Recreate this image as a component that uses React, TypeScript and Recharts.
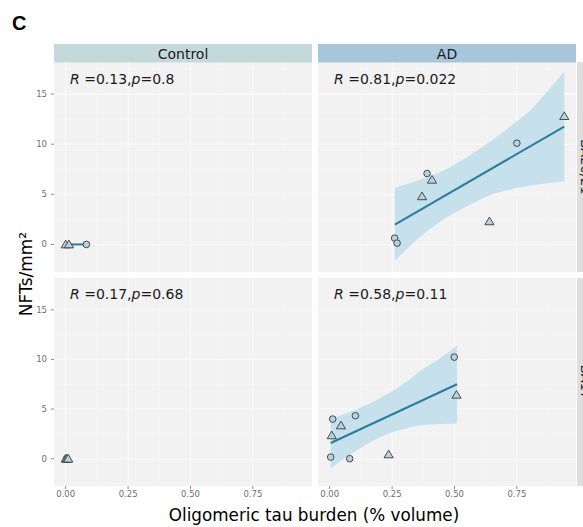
import React from "react";
import { ComposedChart, XAxis, YAxis, CartesianGrid, Area, Line, Scatter } from "recharts";

// ---------- data ----------
const xTicks = [0, 0.25, 0.5, 0.75];
const yTicks = [0, 5, 10, 15];
const xMinor = [0.125, 0.375, 0.625, 0.875];
const yMinor = [-2.5, 2.5, 7.5, 12.5, 17.5];
const xDomain: [number, number] = [-0.047, 0.987];
const yDomain: [number, number] = [-2.75, 18.2];

const columns = ["Control", "AD"];
const rows = ["BA20/21", "BA17"];

// Control, top row
const ctlTopCircles = [{ x: 0.083, y: 0 }];
const ctlTopTriangles = [{ x: 0.0, y: 0 }, { x: 0.013, y: 0 }];
const ctlTopFit = [{ x: 0.005, y: 0 }, { x: 0.083, y: 0 }];

// Control, bottom row
const ctlBotCircles = [{ x: 0.003, y: 0 }];
const ctlBotTriangles = [{ x: 0.0, y: 0 }, { x: 0.005, y: 0 }, { x: 0.01, y: 0 }];
const ctlBotFit = [{ x: 0.0, y: 0 }, { x: 0.01, y: 0 }];

// AD, top row
const adTopCircles = [
  { x: 0.39, y: 7.08 },
  { x: 0.75, y: 10.1 },
  { x: 0.26, y: 0.63 },
  { x: 0.27, y: 0.13 },
];
const adTopTriangles = [
  { x: 0.41, y: 6.45 },
  { x: 0.37, y: 4.8 },
  { x: 0.94, y: 12.8 },
  { x: 0.64, y: 2.3 },
];
const adTopFit = [{ x: 0.261, y: 1.98 }, { x: 0.94, y: 11.75 }];
const adTopBand = [
  { x: 0.261, lo: -1.6, hi: 5.65 },
  { x: 0.32, lo: -0.2, hi: 6.1 },
  { x: 0.379, lo: 1.09, hi: 6.64 },
  { x: 0.45, lo: 2.4, hi: 7.3 },
  { x: 0.513, lo: 3.3, hi: 8.15 },
  { x: 0.58, lo: 4.2, hi: 9.2 },
  { x: 0.646, lo: 4.95, hi: 10.33 },
  { x: 0.72, lo: 5.45, hi: 11.7 },
  { x: 0.8, lo: 5.85, hi: 13.3 },
  { x: 0.87, lo: 6.1, hi: 15.2 },
  { x: 0.94, lo: 6.3, hi: 17.25 },
];

// AD, bottom row
const adBotCircles = [
  { x: 0.499, y: 10.23 },
  { x: 0.103, y: 4.33 },
  { x: 0.012, y: 3.99 },
  { x: 0.004, y: 0.16 },
  { x: 0.08, y: 0.0 },
];
const adBotTriangles = [
  { x: 0.508, y: 6.44 },
  { x: 0.045, y: 3.35 },
  { x: 0.008, y: 2.35 },
  { x: 0.236, y: 0.43 },
];
const adBotFit = [{ x: 0.004, y: 1.58 }, { x: 0.51, y: 7.5 }];
const adBotBand = [
  { x: 0.004, lo: -1.0, hi: 4.03 },
  { x: 0.05, lo: -0.1, hi: 4.4 },
  { x: 0.098, lo: 0.67, hi: 4.86 },
  { x: 0.165, lo: 1.7, hi: 5.6 },
  { x: 0.232, lo: 2.52, hi: 6.54 },
  { x: 0.3, lo: 3.0, hi: 7.6 },
  { x: 0.365, lo: 3.36, hi: 8.89 },
  { x: 0.44, lo: 3.5, hi: 10.1 },
  { x: 0.51, lo: 3.55, hi: 11.41 },
];

const stats = [
  { r: "0.13", p: "0.8" },
  { r: "0.81", p: "0.022" },
  { r: "0.17", p: "0.68" },
  { r: "0.58", p: "0.11" },
];

// ---------- styles ----------
const FONT = "DejaVu Sans, sans-serif";
const PANEL_BG = "#f2f2f2";
const BAND = "#c6e0ec";
const LINE = "#2a7e9b";
const PT_FILL = "#b7d2e1";
const PT_STROKE = "#3a3a3a";
const TICK_TXT = "#6e6e6e";

const Circ = (p: any) => (
  <circle cx={p.cx} cy={p.cy} r={3.3} fill={PT_FILL} stroke={PT_STROKE} strokeWidth={0.9} />
);
const Tri = (p: any) => (
  <path
    d={`M${p.cx},${p.cy - 4.3} L${p.cx + 4.6},${p.cy + 3.4} L${p.cx - 4.6},${p.cy + 3.4} Z`}
    fill={PT_FILL}
    stroke={PT_STROKE}
    strokeWidth={0.9}
  />
);

function Panel(props: {
  width: number;
  height: number;
  showX: boolean;
  showY: boolean;
  band?: any[];
  fit: any[];
  circles: any[];
  triangles: any[];
}) {
  const { width, height, showX, showY, band, fit, circles, triangles } = props;
  return (
    <ComposedChart
      width={width}
      height={height}
      data={band || fit}
      margin={{ top: 0, right: 0, bottom: 0, left: 0 }}
    >
      <CartesianGrid
        fill={PANEL_BG}
        stroke="#f7f7f7"
        strokeWidth={0.6}
        horizontalValues={yMinor}
        verticalValues={xMinor}
      />
      <CartesianGrid
        fill="none"
        stroke="#fafafa"
        strokeWidth={1.1}
        horizontalValues={yTicks}
        verticalValues={xTicks}
      />
      <XAxis
        type="number"
        dataKey="x"
        domain={xDomain}
        ticks={xTicks}
        allowDataOverflow
        hide={!showX}
        height={20}
        axisLine={false}
        tickSize={3}
        tickMargin={2}
        tickLine={{ stroke: "#8a8a8a" }}
        tick={{ fontSize: 8.5, fill: TICK_TXT, fontFamily: FONT }}
        tickFormatter={(v: number) => v.toFixed(2)}
      />
      <YAxis
        type="number"
        domain={yDomain}
        ticks={yTicks}
        allowDataOverflow
        hide={!showY}
        width={54}
        axisLine={false}
        tickSize={3}
        tickMargin={4}
        tickLine={{ stroke: "#8a8a8a" }}
        tick={{ fontSize: 8.5, fill: TICK_TXT, fontFamily: FONT }}
      />
      {band && (
        <Area
          type="monotone"
          dataKey={(d: any) => [d.lo, d.hi]}
          fill={BAND}
          fillOpacity={1}
          stroke="none"
          isAnimationActive={false}
        />
      )}
      <Line
        data={fit}
        dataKey="y"
        type="linear"
        stroke={LINE}
        strokeWidth={2}
        dot={false}
        activeDot={false}
        isAnimationActive={false}
      />
      <Scatter data={circles} dataKey="y" shape={Circ} isAnimationActive={false} />
      <Scatter data={triangles} dataKey="y" shape={Tri} isAnimationActive={false} />
    </ComposedChart>
  );
}

function Stat({ x, y, r, p }: { x: number; y: number; r: string; p: string }) {
  return (
    <text x={x} y={y} fontSize={14} fontFamily={FONT} fill="#1a1a1a">
      <tspan fontStyle="italic">R</tspan>
      <tspan>{` =${r},`}</tspan>
      <tspan fontStyle="italic">p</tspan>
      <tspan>{`=${p}`}</tspan>
    </text>
  );
}

export default function App() {
  return (
    <div
      style={{
        position: "absolute",
        left: 0,
        top: 0,
        width: 583,
        height: 527,
        background: "#ffffff",
        overflow: "hidden",
        fontFamily: FONT,
      }}
    >
      <div style={{ position: "absolute", left: 0, top: 62 }}>
        <Panel width={312} height={210} showX={false} showY={true} fit={ctlTopFit} circles={ctlTopCircles} triangles={ctlTopTriangles} />
      </div>
      <div style={{ position: "absolute", left: 318, top: 62 }}>
        <Panel width={258} height={210} showX={false} showY={false} band={adTopBand} fit={adTopFit} circles={adTopCircles} triangles={adTopTriangles} />
      </div>
      <div style={{ position: "absolute", left: 0, top: 278 }}>
        <Panel width={312} height={228} showX={true} showY={true} fit={ctlBotFit} circles={ctlBotCircles} triangles={ctlBotTriangles} />
      </div>
      <div style={{ position: "absolute", left: 318, top: 278 }}>
        <Panel width={258} height={228} showX={true} showY={false} band={adBotBand} fit={adBotFit} circles={adBotCircles} triangles={adBotTriangles} />
      </div>

      <svg
        width={583}
        height={527}
        style={{ position: "absolute", left: 0, top: 0, pointerEvents: "none" }}
      >
        <text x={12} y={29.5} fontSize={20} fontWeight="bold" fontFamily="Liberation Sans, Arial, sans-serif" fill="#000">
          C
        </text>
        {/* column strips */}
        <rect x={54} y={44} width={258} height={18.5} fill="#c4d9da" />
        <rect x={318} y={44} width={258} height={18.5} fill="#a7c6dc" />
        <text x={183} y={58.5} fontSize={14} fontFamily={FONT} textAnchor="middle" fill="#1a1a1a">
          {columns[0]}
        </text>
        <text x={447} y={58.5} fontSize={14} fontFamily={FONT} textAnchor="middle" fill="#1a1a1a">
          {columns[1]}
        </text>
        {/* row strips */}
        <rect x={577} y={62} width={20} height={210} fill="#dedede" />
        <rect x={577} y={278} width={20} height={208} fill="#dedede" />
        <text transform="translate(581,167) rotate(90)" fontSize={13} fontFamily={FONT} textAnchor="middle" fill="#1a1a1a">
          {rows[0]}
        </text>
        <text transform="translate(581,382) rotate(90)" fontSize={13} fontFamily={FONT} textAnchor="middle" fill="#1a1a1a">
          {rows[1]}
        </text>
        {/* annotations */}
        <Stat x={70} y={83.5} r={stats[0].r} p={stats[0].p} />
        <Stat x={334} y={83.5} r={stats[1].r} p={stats[1].p} />
        <Stat x={70} y={298.5} r={stats[2].r} p={stats[2].p} />
        <Stat x={334} y={298.5} r={stats[3].r} p={stats[3].p} />
        {/* axis titles */}
        <text x={314} y={521} fontSize={16.8} fontFamily={FONT} textAnchor="middle" fill="#000">
          Oligomeric tau burden (% volume)
        </text>
        <text transform="translate(32,274) rotate(-90)" fontSize={17} fontFamily={FONT} textAnchor="middle" fill="#000">
          NFTs/mm²
        </text>
      </svg>
    </div>
  );
}
